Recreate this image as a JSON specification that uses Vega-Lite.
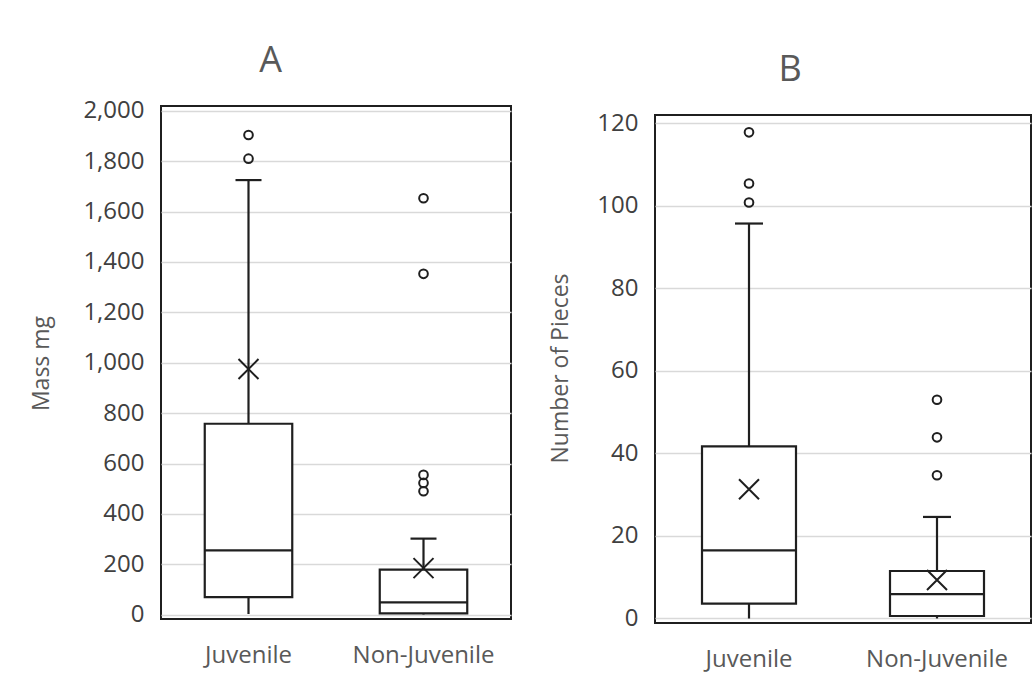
{
  "$schema": "https://vega.github.io/schema/vega-lite/v6.json",
  "background": "white",
  "padding": {"left": 29, "top": 41, "right": 0, "bottom": 0},
  "datasets": {
    "massBox": [
      {"group": "Juvenile", "min": 3, "q1": 70, "median": 255, "q3": 758, "max": 1725, "mean": 975},
      {"group": "Non-Juvenile", "min": 1, "q1": 5, "median": 49, "q3": 179, "max": 302, "mean": 185}
    ],
    "massOut": [
      {"group": "Juvenile", "value": 1810},
      {"group": "Juvenile", "value": 1904},
      {"group": "Non-Juvenile", "value": 490},
      {"group": "Non-Juvenile", "value": 523},
      {"group": "Non-Juvenile", "value": 555},
      {"group": "Non-Juvenile", "value": 1353},
      {"group": "Non-Juvenile", "value": 1653}
    ],
    "piecesBox": [
      {"group": "Juvenile", "min": 0, "q1": 3.6, "median": 16.5, "q3": 41.7, "max": 95.7, "mean": 31.3},
      {"group": "Non-Juvenile", "min": 0, "q1": 0.6, "median": 5.9, "q3": 11.5, "max": 24.6, "mean": 9.3}
    ],
    "piecesOut": [
      {"group": "Juvenile", "value": 100.8},
      {"group": "Juvenile", "value": 105.4},
      {"group": "Juvenile", "value": 117.8},
      {"group": "Non-Juvenile", "value": 34.7},
      {"group": "Non-Juvenile", "value": 43.9},
      {"group": "Non-Juvenile", "value": 53}
    ]
  },
  "config": {
    "font": "Open Sans",
    "view": {"stroke": "#1f1f1f", "strokeWidth": 2},
    "title": {"fontSize": 36, "fontWeight": "normal", "color": "#595959", "anchor": "middle", "frame": "bounds"},
    "axisX": {"labelAngle": 0, "labelFontSize": 24, "labelColor": "#595959", "ticks": false, "domain": false, "grid": false, "labelPadding": 24, "title": null},
    "axisY": {"labelFontSize": 24, "labelColor": "#404040", "labelPadding": 17, "ticks": false, "domain": false, "grid": true, "gridColor": "#d9d9d9", "gridWidth": 1.5, "titleFontSize": 23, "titleFontWeight": "normal", "titleColor": "#595959", "titleAngle": -90, "titleAlign": "center", "titleBaseline": "middle"}
  },
  "spacing": 36,
  "hconcat": [
    {
      "title": {"text": "A", "offset": 19},
      "width": 350,
      "height": 513,
      "layer": [
        {
          "data": {"name": "massBox"},
          "mark": {"type": "rule", "color": "#1f1f1f", "strokeWidth": 2.2},
          "encoding": {
            "x": {"field": "group", "type": "nominal", "scale": {"type": "band", "padding": 0}},
            "y": {"field": "min", "type": "quantitative", "scale": {"domain": [-17, 2019], "nice": false, "zero": false}, "axis": {"values": [0, 200, 400, 600, 800, 1000, 1200, 1400, 1600, 1800, 2000], "format": ",.0f", "title": "Mass mg", "titleX": -120, "titleY": 257}},
            "y2": {"field": "max"}
          }
        },
        {
          "data": {"name": "massBox"},
          "mark": {"type": "bar", "fill": "white", "stroke": "#1f1f1f", "strokeWidth": 2.2, "width": {"band": 0.5}},
          "encoding": {
            "x": {"field": "group", "type": "nominal"},
            "y": {"field": "q1", "type": "quantitative"},
            "y2": {"field": "q3"}
          }
        },
        {
          "data": {"name": "massBox"},
          "mark": {"type": "tick", "color": "#1f1f1f", "opacity": 1, "size": 88, "thickness": 2.2},
          "encoding": {
            "x": {"field": "group", "type": "nominal"},
            "y": {"field": "median", "type": "quantitative"}
          }
        },
        {
          "data": {"name": "massBox"},
          "mark": {"type": "tick", "color": "#1f1f1f", "opacity": 1, "size": 26, "thickness": 2.2},
          "encoding": {
            "x": {"field": "group", "type": "nominal"},
            "y": {"field": "max", "type": "quantitative"}
          }
        },
        {
          "data": {"name": "massOut"},
          "mark": {"type": "point", "shape": "circle", "size": 75, "filled": false, "stroke": "#1f1f1f", "strokeWidth": 2, "opacity": 1},
          "encoding": {
            "x": {"field": "group", "type": "nominal"},
            "y": {"field": "value", "type": "quantitative"}
          }
        },
        {
          "data": {"name": "massBox"},
          "mark": {"type": "point", "shape": "M-1,-1L1,1M-1,1L1,-1", "size": 400, "filled": false, "stroke": "#1f1f1f", "strokeWidth": 2, "opacity": 1},
          "encoding": {
            "x": {"field": "group", "type": "nominal"},
            "y": {"field": "mean", "type": "quantitative"}
          }
        }
      ]
    },
    {
      "title": {"text": "B", "offset": 17},
      "spacing": 3,
      "vconcat": [
        {
          "width": 376,
          "height": 1,
          "view": {"stroke": null},
          "data": {"values": []},
          "mark": {"type": "point", "opacity": 0},
          "encoding": {}
        },
        {
          "width": 376,
          "height": 508,
          "layer": [
            {
              "data": {"name": "piecesBox"},
              "mark": {"type": "rule", "color": "#1f1f1f", "strokeWidth": 2.2},
              "encoding": {
                "x": {"field": "group", "type": "nominal", "scale": {"type": "band", "padding": 0}},
                "y": {"field": "min", "type": "quantitative", "scale": {"domain": [-1.1, 122], "nice": false, "zero": false}, "axis": {"values": [0, 20, 40, 60, 80, 100, 120], "title": "Number of Pieces", "titleX": -95, "titleY": 253}},
                "y2": {"field": "max"}
              }
            },
            {
              "data": {"name": "piecesBox"},
              "mark": {"type": "bar", "fill": "white", "stroke": "#1f1f1f", "strokeWidth": 2.2, "width": {"band": 0.5}},
              "encoding": {
                "x": {"field": "group", "type": "nominal"},
                "y": {"field": "q1", "type": "quantitative"},
                "y2": {"field": "q3"}
              }
            },
            {
              "data": {"name": "piecesBox"},
              "mark": {"type": "tick", "color": "#1f1f1f", "opacity": 1, "size": 93, "thickness": 2.2},
              "encoding": {
                "x": {"field": "group", "type": "nominal"},
                "y": {"field": "median", "type": "quantitative"}
              }
            },
            {
              "data": {"name": "piecesBox"},
              "mark": {"type": "tick", "color": "#1f1f1f", "opacity": 1, "size": 28, "thickness": 2.2},
              "encoding": {
                "x": {"field": "group", "type": "nominal"},
                "y": {"field": "max", "type": "quantitative"}
              }
            },
            {
              "data": {"name": "piecesOut"},
              "mark": {"type": "point", "shape": "circle", "size": 75, "filled": false, "stroke": "#1f1f1f", "strokeWidth": 2, "opacity": 1},
              "encoding": {
                "x": {"field": "group", "type": "nominal"},
                "y": {"field": "value", "type": "quantitative"}
              }
            },
            {
              "data": {"name": "piecesBox"},
              "mark": {"type": "point", "shape": "M-1,-1L1,1M-1,1L1,-1", "size": 400, "filled": false, "stroke": "#1f1f1f", "strokeWidth": 2, "opacity": 1},
              "encoding": {
                "x": {"field": "group", "type": "nominal"},
                "y": {"field": "mean", "type": "quantitative"}
              }
            }
          ]
        }
      ]
    }
  ]
}
